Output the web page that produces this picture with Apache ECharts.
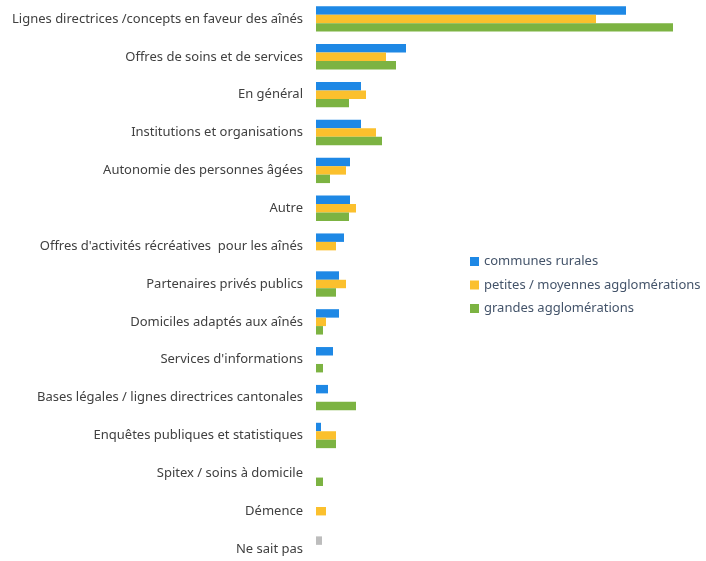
<!DOCTYPE html>
<html>
<head>
<meta charset="utf-8">
<script src="https://cdn.jsdelivr.net/npm/echarts@6/dist/echarts.min.js"></script>
<style>
  html, body { margin: 0; padding: 0; background: #fff; }
  #chart { width: 706px; height: 561px; }
</style>
</head>
<body>
<div id="chart"></div>
<script>
// categories, top to bottom
const categories = [
  "Lignes directrices /concepts en faveur des aînés",
  "Offres de soins et de services",
  "En général",
  "Institutions et organisations",
  "Autonomie des personnes âgées",
  "Autre",
  "Offres d'activités récréatives  pour les aînés",
  "Partenaires privés publics",
  "Domiciles adaptés aux aînés",
  "Services d'informations",
  "Bases légales / lignes directrices cantonales",
  "Enquêtes publiques et statistiques",
  "Spitex / soins à domicile",
  "Démence",
  "Ne sait pas"
]

// values (relative bar lengths)
const rurales = [310, 90, 45, 45, 34, 34, 28, 23, 23, 17, 12, 5, 0, 0, 6]
const moyennes = [280, 70, 50, 60, 30, 40, 20, 30, 10, 0, 0, 20, 0, 10, 0]
const grandes = [357, 80, 33, 66, 14, 33, 0, 20, 7, 7, 40, 20, 7, 0, 0]

const seriesNames = ["communes rurales", "petites / moyennes agglomérations", "grandes agglomérations"]
const colors = ["#1E88E5", "#FBC02D", "#7CB342"]
const greyColor = "#BDBDBD"

let myChart = echarts.init(document.getElementById("chart"))

function toData(arr) {
  return arr.map((v, i) => {
    if (v === 0) return null
    // "Ne sait pas" is drawn in grey
    if (i === categories.length - 1) return { value: v, itemStyle: { color: greyColor } }
    return v
  })
}

myChart.setOption({
  animation: false,
  textStyle: { fontFamily: "Noto Sans" },
  grid: {
    left: 316,
    top: 0,
    width: 390,
    height: 568,
    outerBoundsMode: "none"
  },
  xAxis: {
    type: "value",
    min: 0,
    max: 390,
    show: false
  },
  yAxis: {
    type: "category",
    data: categories,
    inverse: true,
    axisLine: { show: false },
    axisTick: { show: false },
    axisLabel: {
      color: "#404040",
      fontSize: 13,
      margin: 13
    }
  },
  legend: {
    orient: "vertical",
    left: 465,
    top: 250,
    itemWidth: 9,
    itemHeight: 9,
    itemGap: 10.5,
    icon: "rect",
    textStyle: { color: "#44546A", fontSize: 13 },
    data: seriesNames
  },
  series: [
    { name: seriesNames[0], type: "bar", data: toData(rurales), itemStyle: { color: colors[0] }, barGap: "0%", barCategoryGap: "33%" },
    { name: seriesNames[1], type: "bar", data: toData(moyennes), itemStyle: { color: colors[1] }, barGap: "0%", barCategoryGap: "33%" },
    { name: seriesNames[2], type: "bar", data: toData(grandes), itemStyle: { color: colors[2] }, barGap: "0%", barCategoryGap: "33%" }
  ]
})
</script>
</body>
</html>
